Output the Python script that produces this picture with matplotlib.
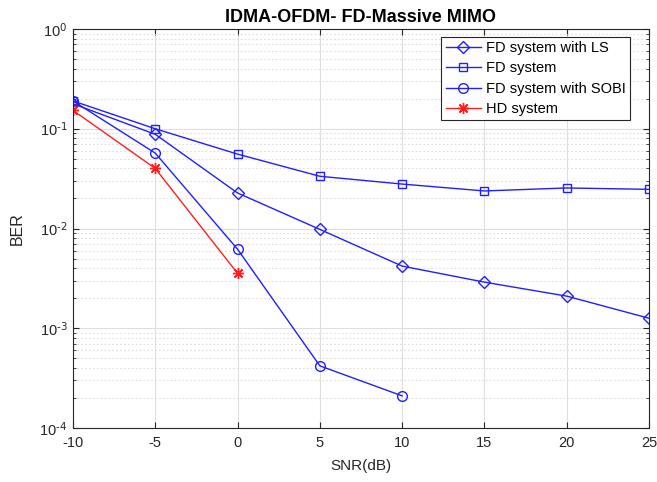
"""BER vs SNR for IDMA-OFDM FD massive MIMO (MATLAB-style semilog plot)."""

import math

import matplotlib

matplotlib.use("Agg")
import matplotlib.pyplot as plt
from matplotlib.ticker import FuncFormatter, LogLocator, NullFormatter

plt.rcParams["font.family"] = ["Liberation Sans", "DejaVu Sans"]
plt.rcParams["axes.unicode_minus"] = False
plt.rcParams["mathtext.default"] = "regular"

SNR_FULL = [-10, -5, 0, 5, 10, 15, 20, 25]
BER_FD_LS = [0.178, 0.088, 0.0227, 0.0098, 0.0042, 0.0029, 0.0021, 0.00126]
BER_FD = [0.19, 0.100, 0.0557, 0.0334, 0.0279, 0.0238, 0.0255, 0.0247]

SNR_SOBI = [-10, -5, 0, 5, 10]
BER_FD_SOBI = [0.19, 0.057, 0.0062, 0.00042, 0.00021]

SNR_HD = [-10, -5, 0]
BER_HD = [0.153, 0.040, 0.00355]

BLUE = "#1f1fff"
RED = "#ff1f1f"
DARK = "#262626"


def pow10_label(v, _pos):
    e = int(round(math.log10(v)))
    return r"10$^{\text{%d}}$" % e


fig = plt.figure(figsize=(6.57, 4.82), dpi=100)
ax = fig.add_axes([0.1111, 0.112, 0.8767, 0.8278])

ax.semilogy(SNR_FULL, BER_FD_LS, "-D", color=BLUE, lw=1, ms=6, mfc="none",
            mew=1, label="FD system with LS")
ax.semilogy(SNR_FULL, BER_FD, "-s", color=BLUE, lw=1, ms=6, mfc="none",
            mew=1, label="FD system")
ax.semilogy(SNR_SOBI, BER_FD_SOBI, "-o", color=BLUE, lw=1, ms=7, mfc="none",
            mew=1, label="FD system with SOBI")
ax.semilogy(SNR_HD, BER_HD, "-", marker=(8, 2, 0), color=RED, lw=1, ms=8,
            mew=1, label="HD system")

ax.set_xlim(-10, 25)
ax.set_ylim(1e-4, 1)
ax.set_xticks(SNR_FULL)
ax.yaxis.set_major_locator(LogLocator(base=10, numticks=10))
ax.yaxis.set_major_formatter(FuncFormatter(pow10_label))
ax.yaxis.set_minor_locator(LogLocator(base=10, subs=range(2, 10), numticks=20))
ax.yaxis.set_minor_formatter(NullFormatter())

ax.grid(True, which="major", color="#dedede", lw=0.8, ls="-")
ax.grid(True, which="minor", axis="y", color="#dedede", lw=0.8, ls=(0, (1.5, 2)))
ax.set_axisbelow(True)

ax.tick_params(which="both", direction="in", top=True, right=True,
               labelsize=10.5, colors=DARK)
ax.tick_params(which="major", length=4)
ax.tick_params(which="minor", length=2)
ax.tick_params(axis="x", pad=6)
ax.tick_params(axis="y", pad=4)
for s in ax.spines.values():
    s.set_color(DARK)
    s.set_linewidth(0.8)

ax.set_xlabel("SNR(dB)", fontsize=11, color=DARK, labelpad=6)
ax.set_ylabel("BER", fontsize=11.5, color=DARK)
ax.yaxis.set_label_coords(-0.083, 0.5)
ax.set_title("IDMA-OFDM- FD-Massive MIMO", fontsize=13, fontweight="bold", pad=5)

leg = ax.legend(loc="upper right", bbox_to_anchor=(0.967, 0.98), fontsize=10.5,
                fancybox=False, framealpha=1, edgecolor=DARK, borderpad=0.3,
                labelspacing=0.42, handlelength=2.4, handletextpad=0.35,
                borderaxespad=0)
leg.get_frame().set_linewidth(0.8)

fig.savefig("out.png", dpi=100)
